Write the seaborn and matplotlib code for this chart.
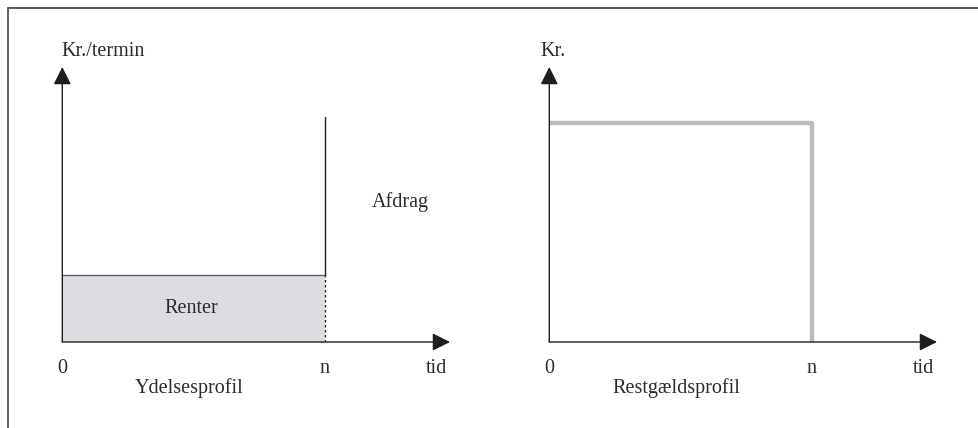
import numpy as np
import pandas as pd
import matplotlib
matplotlib.use("Agg")
import matplotlib.pyplot as plt
from matplotlib.patches import Rectangle
import seaborn as sns

# Stiliserede profiler for et stående lån (n terminer)
n = 1.0
renter = 0.244      # rente pr. termin
ydelse = 0.818      # ydelse i sidste termin (renter + afdrag)
restgaeld = 0.796   # restgæld frem til termin n

x_ticks = ["0", "n", "tid"]
titles = ["Ydelsesprofil", "Restgældsprofil"]
y_labels = ["Kr./termin", "Kr."]

sns.set_style("white")
plt.rcParams["font.family"] = ["Liberation Serif", "DejaVu Serif"]
txt = "#2b2b2b"
fs = 14.5

fig = plt.figure(figsize=(9.79, 4.28), dpi=100)
W, H = 979, 428

# ramme om figuren
fig.patches.append(Rectangle((8 / W, -0.1), 1.2, (H - 8) / H + 0.1,
                             transform=fig.transFigure, fill=False,
                             edgecolor="#505050", linewidth=1.3))

xmax = 1.476
axes = []
for x0 in [62.3, 549.3]:
    ax = fig.add_axes([x0 / W, (H - 342) / H, 387.7 / W, 275 / H])
    ax.set_xlim(0, xmax)
    ax.set_ylim(0, 1)
    ax.axis("off")
    # akser med pile
    for tip in [(0, 1), (xmax, 0)]:
        ax.annotate("", xy=tip, xytext=(0, 0), annotation_clip=False,
                    arrowprops=dict(arrowstyle="-|>", color="#1e1e1e", lw=1.0,
                                    mutation_scale=27, shrinkA=0, shrinkB=0))
    axes.append(ax)

# Ydelsesprofil
ax = axes[0]
ax.fill_between([0, n], 0, renter, color="#dcdde0", lw=0)
sns.lineplot(x=[0, n], y=[renter, renter], ax=ax, color="#606060", lw=1.0,
             estimator=None)
sns.lineplot(x=[n, n], y=[renter, ydelse], ax=ax, color="#1e1e1e", lw=1.0,
             estimator=None, sort=False)
ax.plot([n, n], [0, renter], color="#1e1e1e", lw=0.9, ls=(0, (2, 2)))
ax.text(0.49, renter / 2, "Renter", ha="center", va="center", fontsize=fs, color=txt)
ax.text(1.285, 0.509, "Afdrag", ha="center", va="center", fontsize=fs, color=txt)
ax.text(0.155, 1.055, y_labels[0], ha="center", va="center", fontsize=fs, color=txt)

# Restgældsprofil
ax = axes[1]
rest = pd.DataFrame({"t": [0, n, n], "kr": [restgaeld, restgaeld, 0]})
sns.lineplot(data=rest, x="t", y="kr", ax=ax, color="#bcbcbc", lw=3.2,
             estimator=None, sort=False)
ax.text(0.014, 1.055, y_labels[1], ha="center", va="center", fontsize=fs, color=txt)

for ax, title in zip(axes, titles):
    for xv, lab in zip([0, n, 1.424], x_ticks):
        ax.text(xv, -0.095, lab, ha="center", va="center", fontsize=fs, color=txt)
    ax.text(0.483, -0.167, title, ha="center", va="center", fontsize=fs, color=txt)

fig.savefig("out.png", dpi=100)
